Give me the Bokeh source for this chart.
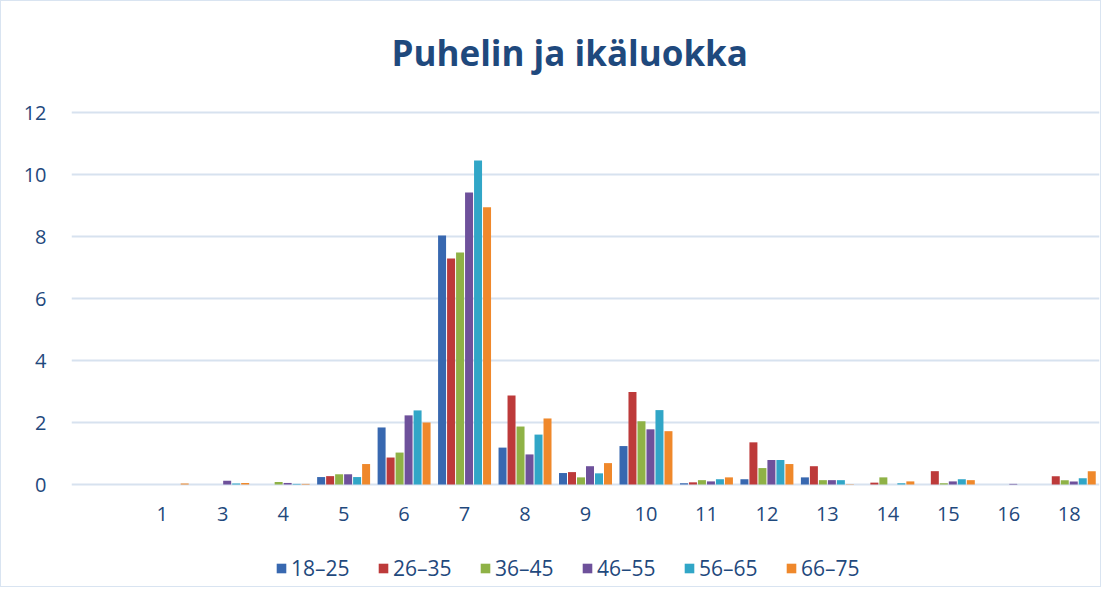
from bokeh.plotting import figure
from bokeh.models import (FactorRange, Range1d, Label, Legend, LegendItem,
                          ColumnDataSource, FixedTicker)
from bokeh.transform import dodge
from bokeh.embed import file_html
from bokeh.resources import INLINE

categories = ["", "1", "3", "4", "5", "6", "7", "8", "9", "10", "11", "12",
              "13", "14", "15", "16", "18"]
series = ["18–25", "26–35", "36–45", "46–55", "56–65", "66–75"]

v_18_25 = [0, 0, 0, 0, 0.24, 1.84, 8.03, 1.19, 0.37, 1.24, 0.04, 0.17, 0.23, 0, 0, 0, 0]
v_26_35 = [0, 0, 0, 0, 0.27, 0.87, 7.29, 2.87, 0.40, 2.98, 0.07, 1.36, 0.59, 0.06, 0.43, 0, 0.27]
v_36_45 = [0, 0, 0, 0.08, 0.33, 1.03, 7.48, 1.87, 0.23, 2.04, 0.14, 0.53, 0.14, 0.23, 0.04, 0, 0.14]
v_46_55 = [0, 0, 0.12, 0.05, 0.33, 2.23, 9.42, 0.97, 0.59, 1.78, 0.10, 0.79, 0.14, 0, 0.10, 0.02, 0.10]
v_56_65 = [0, 0, 0.03, 0.02, 0.24, 2.39, 10.45, 1.61, 0.36, 2.40, 0.17, 0.79, 0.14, 0.04, 0.17, 0, 0.20]
v_66_75 = [0, 0.03, 0.05, 0.02, 0.66, 2.00, 8.94, 2.13, 0.69, 1.72, 0.23, 0.66, 0.01, 0.10, 0.14, 0, 0.43]

colors = ["#3868b0", "#bd3a3a", "#8fb246", "#6e519b", "#31a6c7", "#ef882b"]
y_ticks = [0, 2, 4, 6, 8, 10, 12]

TEXT = "#1F497D"
FONT = "Open Sans"

W, H = 1101, 587
LEFT, RIGHT = 70, 3
ZERO_Y, TOP_Y = 483, 111          # canvas rows of value 0 and value 12
PX = (ZERO_Y - TOP_Y) / 12.0      # pixels per unit

src = ColumnDataSource(dict(cat=categories, s0=v_18_25, s1=v_26_35, s2=v_36_45,
                            s3=v_46_55, s4=v_56_65, s5=v_66_75))

p = figure(width=W, height=H,
           x_range=FactorRange(factors=categories, range_padding=0),
           y_range=Range1d(-(H - ZERO_Y) / PX, ZERO_Y / PX),
           output_backend="svg", toolbar_location=None,
           min_border_left=LEFT, min_border_right=RIGHT,
           min_border_top=0, min_border_bottom=0)
p.styles = {"border": "1px solid #d9e4f1"}
p.outline_line_color = None
p.background_fill_color = "white"
p.border_fill_color = "white"

step = 9 / 60.5
bw = 8 / 60.5
renderers = []
for i, name in enumerate(series):
    r = p.vbar(x=dodge("cat", (i - 2.5) * step, range=p.x_range), top="s%d" % i,
               width=bw, source=src, fill_color=colors[i], line_color=None)
    renderers.append(r)

p.xgrid.visible = False
p.ygrid.grid_line_color = "#d7e2ef"
p.ygrid.grid_line_width = 2

p.yaxis.ticker = FixedTicker(ticks=y_ticks)
p.xaxis.fixed_location = 0
for ax in (p.xaxis, p.yaxis):
    ax.axis_line_color = None
    ax.major_tick_line_color = None
    ax.minor_tick_line_color = None
    ax.major_label_text_font = FONT
    ax.major_label_text_font_size = "20px"
    ax.major_label_text_color = TEXT
p.yaxis.major_label_standoff = 19
p.xaxis.major_label_standoff = 16

title = Label(x=390 - LEFT, y=H - 51, x_units="screen", y_units="screen",
              text="Puhelin ja ikäluokka", text_align="left",
              text_baseline="alphabetic", text_font=FONT,
              text_font_size="35px", text_font_style="bold", text_color=TEXT)
p.add_layout(title)

legend = Legend(items=[LegendItem(label=s, renderers=[r]) for s, r in zip(series, renderers)],
                orientation="horizontal", location=(274 - LEFT, 6),
                glyph_width=12, glyph_height=12, label_standoff=4, spacing=26,
                label_width=60, padding=0, margin=0,
                border_line_color=None, background_fill_alpha=0,
                label_text_font=FONT, label_text_font_size="21px",
                label_text_color=TEXT)
p.add_layout(legend, "center")

open("out.html", "w").write(file_html(p, INLINE))
